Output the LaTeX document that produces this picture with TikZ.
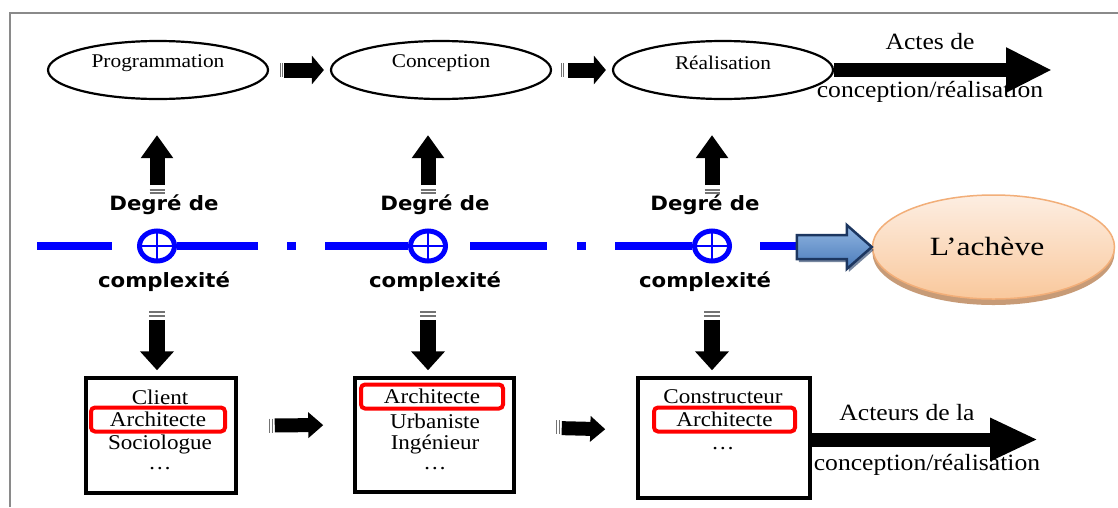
\documentclass[tikz,border=0pt]{standalone}
\usepackage{fontspec}
\usetikzlibrary{arrows.meta,shapes.geometric,shadows,calc}
\newfontfamily\tnr[FakeStretch=1.1]{Liberation Serif}
\newfontfamily\tnrwide[FakeStretch=1.2]{Liberation Serif}
\newfontfamily\dvsb[FakeStretch=1.08]{DejaVu Sans}
\definecolor{pureblue}{HTML}{0000FF}
\definecolor{framegray}{HTML}{8A8A8A}
\definecolor{redmark}{HTML}{FF0000}
\definecolor{peachtop}{HTML}{FDEEE2}
\definecolor{peachbot}{HTML}{F9C89C}
\definecolor{peachline}{HTML}{F2AE78}
\definecolor{peachshadow}{HTML}{C79B77}
\definecolor{steeltop}{HTML}{92B6E2}
\definecolor{steelbot}{HTML}{4A7BBA}
\definecolor{steelline}{HTML}{1C3660}
\begin{document}
\begin{tikzpicture}[x=1pt,y=-1pt,
  phase/.style={ellipse, draw, line width=2.2pt, minimum width=220pt, minimum height=58pt, inner sep=0pt},
  phaselbl/.style={font=\tnr\fontsize{19.4}{22}\selectfont, inner sep=0pt},
  bigtxt/.style={font=\tnr\fontsize{23.3}{26}\selectfont, inner sep=0pt},
  boxtxt/.style={font=\tnr\fontsize{21}{24}\selectfont, inner sep=0pt},
  degtxt/.style={font=\dvsb\bfseries\fontsize{19.7}{22}\selectfont, inner sep=0pt},
  actor/.style={draw, line width=3.5pt, inner sep=0pt},
  redfr/.style={draw=redmark, line width=4pt, rounded corners=4pt, minimum width=134pt, minimum height=24pt},
  oplus/.style={ellipse, draw=pureblue, fill=white, line width=5pt, minimum width=35pt, minimum height=30pt, inner sep=0pt,
    path picture={\draw[pureblue, line width=2.6pt]
      (path picture bounding box.north) -- (path picture bounding box.south)
      (path picture bounding box.west) -- (path picture bounding box.east);}},
  bline/.style={pureblue, line width=8pt},
  blk/.style={line width=15pt, -{Triangle[length=12pt,width=28pt]}},
  bigarr/.style={line width=14pt, -{Triangle[length=46pt,width=42pt]}},
  vup/.style={line width=15pt, -{Triangle[length=23pt,width=31pt]}},
  vdown/.style={line width=16pt, -{Triangle[length=19pt,width=33pt]}},
  stripe/.style={line width=1.2pt, black!55},
]
\useasboundingbox (0,0) rectangle (1118,507);
\fill[white] (0,0) rectangle (1118,507);

% page frame
\draw[framegray, line width=2.5pt] (10,507) -- (10,13) -- (1118,13);

% ---- phases of the project ----
\node[phase] (prog) at (158,70) {};
\node[phase] (conc) at (441,70) {};
\node[phase] (real) at (723,70) {};
\node[phaselbl] (progl) at (158,63) {Programmation};
\node[phaselbl] (concl) at (441,63) {Conception};
\node[phaselbl] (reall) at (723,63) {Réalisation};

\draw[blk, shorten <=15pt, shorten >=6pt] (prog.east) -- (conc.west);
\draw[stripe] ($(prog.east)+(11,-7)$) -- ++(0,14) ($(prog.east)+(13.5,-7)$) -- ++(0,14);
\draw[blk, shorten <=16pt, shorten >=6pt] (conc.east) -- (real.west);
\draw[stripe] ($(conc.east)+(9,-7)$) -- ++(0,14) ($(conc.east)+(11.5,-7)$) -- ++(0,14);

\coordinate (actesEnd) at (1052,70);
\draw[bigarr] (real.east) -- (actesEnd);
\node[bigtxt] (actes1) at (930,42) {Actes de};
\node[bigtxt] (actes2) at (930,92) {conception/réalisation};

% ---- complexity axis ----
\node[oplus] (plus1) at (157,246) {};
\node[oplus] (plus2) at (428,246) {};
\node[oplus] (plus3) at (712,246) {};
\draw[bline] (37,246) -- (112,246);
\draw[bline] (plus1.east) -- (258,246);
\draw[bline] (287,246) -- (296,246);
\draw[bline] (325,246) -- (plus2.west);
\draw[bline] (470,246) -- (547,246);
\draw[bline] (577,246) -- (586,246);
\draw[bline] (615,246) -- (plus3.west);
\draw[bline] (760,246) -- (798,246);

\node[degtxt] (deg1) at (164,205) {Degré de};
\node[degtxt] (deg2) at (435,205) {Degré de};
\node[degtxt] (deg3) at (705,205) {Degré de};
\node[degtxt] (cpx1) at (164,282) {complexité};
\node[degtxt] (cpx2) at (435,282) {complexité};
\node[degtxt] (cpx3) at (705,282) {complexité};

% arrows up to the phases
\foreach \p/\e in {plus1/prog, plus2/conc, plus3/real}{
  \draw[vup] ($(\p.center)+(0,-61)$) -- ($(\p |- \e.south)+(0,35)$);
  \draw[stripe, line width=1.4pt] ($(\p.center)+(-7.5,-56)$) -- ++(15,0)
                                  ($(\p.center)+(-7.5,-53)$) -- ++(15,0);
}

% ---- actors ----
\node[actor, minimum width=150pt, minimum height=115pt] (box1) at (161,435.5) {};
\node[actor, minimum width=159pt, minimum height=114pt] (box2) at (434.5,435) {};
\node[actor, minimum width=172pt, minimum height=120pt] (box3) at (724,438) {};

\node[boxtxt] (t11) at (160,397) {Client};
\node[boxtxt, redfr] (t12) at (158,419.5) {Architecte};
\node[boxtxt] (t13) at (160,444) {Sociologue};
\node[boxtxt] (t14) at (160,469) {…};

\node[boxtxt, redfr, minimum width=142pt] (t21) at (432,396.5) {Architecte};
\node[boxtxt] (t22) at (435,421) {Urbaniste};
\node[boxtxt] (t23) at (435,444) {Ingénieur};
\node[boxtxt] (t24) at (435,469) {…};

\node[boxtxt] (t31) at (723,397) {Constructeur};
\node[boxtxt, redfr, minimum width=141pt] (t32) at (724.5,419.5) {Architecte};
\node[boxtxt] (t33) at (723,449) {…};

% arrows down to the actors
\foreach \p/\b in {plus1/box1, plus2/box2, plus3/box3}{
  \draw[vdown] ($(\p.center)+(0,74)$) -- ($(\p |- \b.north)+(0,-6)$);
  \draw[stripe, line width=1.4pt] ($(\p.center)+(-8,66)$) -- ++(16,0)
                                  ($(\p.center)+(-8,70)$) -- ++(16,0);
}

\draw[blk, line width=14pt, -{Triangle[length=15pt,width=25pt]}, shorten <=37pt, shorten >=30pt]
  ([yshift=10pt]box1.east) -- ([yshift=10pt]box2.west);
\draw[stripe] ($(box1.east)+(32,-17)$) -- ++(0,14) ($(box1.east)+(34.5,-17)$) -- ++(0,14);
\draw[blk, line width=14pt, -{Triangle[length=15pt,width=25pt]}, shorten <=46pt, shorten >=31pt]
  ([yshift=8pt]box2.east) -- ([yshift=8pt]box3.west);
\draw[stripe] ($(box2.east)+(41,-15)$) -- ++(0,14) ($(box2.east)+(43.5,-15)$) -- ++(0,14);

\coordinate (acteursEnd) at (1038,439.5);
\draw[bigarr, -{Triangle[length=48pt,width=40pt]}] (box3.east |- acteursEnd) -- (acteursEnd);
\node[bigtxt] (acteurs1) at (907,413) {Acteurs de la};
\node[bigtxt] (acteurs2) at (927,465) {conception/réalisation};

% ---- outcome ----
\node[ellipse, draw=peachline, line width=1.5pt, top color=peachtop, bottom color=peachbot,
      minimum width=242pt, minimum height=104pt, inner sep=0pt,
      drop shadow={shadow xshift=0pt, shadow yshift=-6pt, fill=peachshadow, opacity=1}]
      (acheve) at (993.5,247) {};
\node[font=\tnrwide\fontsize{26.3}{30}\selectfont, inner sep=0pt] (achevel) at (987,246) {L’achève};

\path[draw=steelline, line width=2.5pt, top color=steeltop, bottom color=steelbot, line join=miter,
      drop shadow={shadow xshift=2pt, shadow yshift=-3pt, fill=steelline, opacity=0.6}]
  (acheve.west) -- ++(-25,-22) -- ++(0,10) -- ++(-50,0) -- ++(0,24) -- ++(50,0) -- ++(0,10) -- cycle;
\end{tikzpicture}
\end{document}
